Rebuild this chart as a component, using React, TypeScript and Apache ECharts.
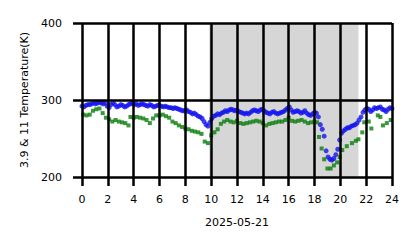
import React, { useEffect, useRef } from "react";
import * as echarts from "echarts";

const xTicks = [0, 2, 4, 6, 8, 10, 12, 14, 16, 18, 20, 22, 24];
const yTicks = [200, 300, 400];
const dateLabel = "2025-05-21";
const yName = "3.9 & 11 Temperature(K)";
const shadeRange = [9.85, 21.4];

const blueTimes = [
  0.0, 0.15, 0.3, 0.45, 0.6, 0.75, 0.9, 1.05, 1.2, 1.35, 1.5, 1.65, 1.8, 1.95, 2.1, 2.25, 2.4, 2.55, 2.7, 2.85,
  3.0, 3.15, 3.3, 3.45, 3.6, 3.75, 3.9, 4.05, 4.2, 4.35, 4.5, 4.65, 4.8, 4.95, 5.1, 5.25, 5.4, 5.55, 5.7, 5.85,
  6.0, 6.15, 6.3, 6.45, 6.6, 6.75, 6.9, 7.05, 7.2, 7.35, 7.5, 7.65, 7.8, 7.95, 8.1, 8.25, 8.4, 8.55, 8.7, 8.85,
  9.0, 9.15, 9.3, 9.45, 9.6, 9.75, 9.9, 10.05, 10.2, 10.35, 10.5, 10.65, 10.8, 10.95, 11.1, 11.25, 11.4, 11.55, 11.7, 11.85,
  12.0, 12.15, 12.3, 12.45, 12.6, 12.75, 12.9, 13.05, 13.2, 13.35, 13.5, 13.65, 13.8, 13.95, 14.1, 14.25, 14.4, 14.55, 14.7, 14.85,
  15.0, 15.15, 15.3, 15.45, 15.6, 15.75, 15.9, 16.05, 16.2, 16.35, 16.5, 16.65, 16.8, 16.95, 17.1, 17.25, 17.4, 17.55, 17.7, 17.85,
  18.0, 18.15, 18.3, 18.45, 18.6, 18.75, 18.9, 19.05, 19.2, 19.35, 19.5, 19.65, 19.8, 19.95, 20.1, 20.25, 20.4, 20.55, 20.7, 20.85,
  21.0, 21.15, 21.3, 21.45, 21.6, 21.75, 21.9, 22.05, 22.2, 22.35, 22.5, 22.65, 22.8, 22.95, 23.1, 23.25, 23.4, 23.55, 23.7, 23.85, 24.0,
];
const blueValues = [
  292, 291, 293, 294, 294, 295, 296, 295, 296, 297, 296, 295, 296, 292, 290, 294, 296, 294, 291, 292,
  294, 293, 291, 292, 294, 295, 296, 294, 295, 293, 294, 295, 294, 293, 292, 294, 293, 291, 292, 293,
  293, 292, 291, 292, 291, 290, 290, 289, 290, 289, 288, 287, 286, 286, 287, 285, 284, 282, 283, 281,
  279, 278, 276, 272, 268, 266, 271, 276, 279, 280, 282, 281, 283, 284, 286, 285, 287, 288, 287, 286,
  287, 285, 284, 283, 282, 283, 282, 284, 286, 287, 286, 285, 287, 288, 286, 284, 283, 282, 284, 285,
  283, 282, 283, 284, 285, 287, 289, 291, 287, 284, 285, 286, 285, 283, 284, 286, 283, 281, 280, 282,
  284, 283, 278, 268, 262, 253, 234, 226, 223, 222, 224, 229, 236, 248, 257, 260, 262, 264, 264, 266,
  267, 268, 270, 274, 278, 284, 287, 289, 288, 285, 287, 290, 289, 290, 291, 288, 287, 285, 288, 290, 289,
];

const greenTimes = [
  0.1, 0.35, 0.6, 0.85, 1.1, 1.35, 1.6, 1.85, 2.1, 2.35, 2.6, 2.85, 3.1, 3.35, 3.6, 3.75, 4.0, 4.25, 4.5, 4.75,
  5.0, 5.25, 5.5, 5.75, 6.0, 6.25, 6.5, 6.75, 7.0, 7.25, 7.5, 7.75, 8.0, 8.25, 8.5, 8.75, 9.0, 9.25, 9.5, 9.75,
  10.0, 10.25, 10.5, 10.75, 11.0, 11.25, 11.5, 11.75, 12.0, 12.25, 12.5, 12.75, 13.0, 13.25, 13.5, 13.75, 14.0, 14.25, 14.5, 14.75,
  15.0, 15.25, 15.5, 15.75, 16.0, 16.25, 16.5, 16.75, 17.0, 17.25, 17.5, 17.75, 18.0, 18.2, 18.35, 18.55, 18.75, 19.0, 19.25, 19.5,
  19.75, 19.95, 20.15, 20.5, 20.9, 21.2, 21.4, 21.7, 21.85, 22.2, 22.4, 22.9, 23.1, 23.3, 23.6, 23.9,
];
const greenValues = [
  281, 280, 281, 286, 288, 289, 283, 277, 275, 272, 274, 272, 271, 270, 267, 278, 277, 278, 277, 276,
  274, 270, 276, 280, 280, 281, 279, 277, 272, 270, 267, 265, 263, 262, 260, 259, 258, 256, 246, 244,
  254, 258, 262, 269, 272, 274, 272, 271, 273, 270, 269, 270, 271, 272, 273, 272, 270, 267, 269, 270,
  271, 272, 272, 274, 277, 273, 272, 273, 274, 272, 270, 271, 272, 271, 252, 237, 223, 211, 211, 215,
  219, 226, 235, 240, 244, 247, 249, 258, 271, 272, 263, 280, 278, 267, 270, 274,
];

export default function App() {
  const ref = useRef<HTMLDivElement>(null);
  useEffect(() => {
    if (!ref.current) return;
    const chart = echarts.init(ref.current, null, { renderer: "svg" });
    const font = "DejaVu Sans";
    chart.setOption({
      animation: false,
      textStyle: { fontFamily: font },
      grid: { left: 74, right: 26, top: 15, bottom: 71, containLabel: false },
      xAxis: {
        type: "value",
        min: xTicks[0],
        max: xTicks[xTicks.length - 1],
        interval: 2,
        z: 5,
        name: dateLabel,
        nameLocation: "middle",
        nameGap: 40,
        nameTextStyle: { fontFamily: font, fontSize: 11, color: "#000" },
        axisLine: { show: false },
        axisTick: { show: true, inside: false, length: 9, lineStyle: { color: "#000", width: 2.5 } },
        axisLabel: { fontFamily: font, fontSize: 11, color: "#000", margin: 17 },
        splitLine: { show: true, lineStyle: { color: "#000", width: 2.5 } },
      },
      yAxis: {
        type: "value",
        min: yTicks[0],
        max: yTicks[yTicks.length - 1],
        interval: 100,
        z: 5,
        name: yName,
        nameLocation: "middle",
        nameGap: 52,
        nameTextStyle: { fontFamily: font, fontSize: 11, color: "#000" },
        axisLine: { show: false },
        axisTick: { show: true, inside: false, length: 9, lineStyle: { color: "#000", width: 2.5 } },
        axisLabel: { fontFamily: font, fontSize: 11, color: "#000", margin: 20 },
        splitLine: { show: true, lineStyle: { color: "#000", width: 2.5 } },
      },
      series: [
        {
          type: "scatter",
          z: 1,
          silent: true,
          symbolSize: 0,
          data: [[shadeRange[0], yTicks[0]]],
          markArea: {
            silent: true,
            itemStyle: { color: "#d6d6d6" },
            data: [[{ xAxis: shadeRange[0] }, { xAxis: shadeRange[1] }]],
          },
        },
        {
          type: "scatter",
          z: 2,
          symbol: "circle",
          symbolSize: 5,
          itemStyle: { color: "#1414f0" },
          data: blueTimes.map((t, i) => [t, blueValues[i]]),
        },
        {
          type: "scatter",
          z: 3,
          symbol: "rect",
          symbolSize: 4,
          itemStyle: { color: "#0a7d0a" },
          data: greenTimes.map((t, i) => [t, greenValues[i]]),
        },
      ],
    });
    return () => chart.dispose();
  }, []);
  return <div ref={ref} style={{ width: 410, height: 240 }} />;
}
